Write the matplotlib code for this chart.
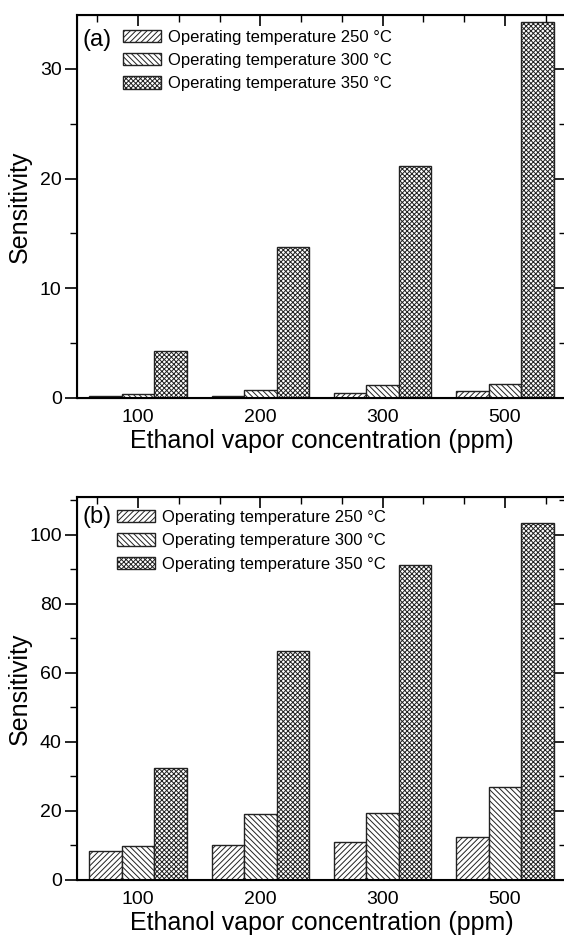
import numpy as np
import matplotlib
matplotlib.use("Agg")
import matplotlib.pyplot as plt
from matplotlib.ticker import MultipleLocator

plt.rcParams['font.family'] = ['Liberation Sans', 'DejaVu Sans']
plt.rcParams['hatch.linewidth'] = 0.7

concentrations = ['100', '200', '300', '500']
labels = ['Operating temperature 250 °C',
          'Operating temperature 300 °C',
          'Operating temperature 350 °C']
hatches = ['//////', '\\\\\\\\\\\\', 'xxxxxxx']

# panel (a)
sens_a_250 = [0.15, 0.2, 0.45, 0.6]
sens_a_300 = [0.4, 0.75, 1.15, 1.25]
sens_a_350 = [4.3, 13.8, 21.1, 34.3]

# panel (b)
sens_b_250 = [8.5, 10.2, 11.0, 12.6]
sens_b_300 = [9.8, 19.2, 19.4, 27.0]
sens_b_350 = [32.4, 66.4, 91.3, 103.4]

W, H = 564, 935
fig = plt.figure(figsize=(W / 100, H / 100), dpi=100)


def panel(rect, series, ymax, major, minor, tag, tag_y, leg_xy):
    ax = fig.add_axes(rect)
    x = np.arange(1, len(concentrations) + 1)
    width = 0.266
    for i, vals in enumerate(series):
        ax.bar(x + (i - 1) * width, vals, width, color='white',
               edgecolor='#222222', linewidth=1.0, hatch=hatches[i],
               label=labels[i])
    ax.set_xlim(0.5, 4.5)
    ax.set_ylim(0, ymax)
    ax.set_xticks(x)
    ax.set_xticklabels(concentrations)
    ax.xaxis.set_minor_locator(MultipleLocator(1 / 3))
    ax.yaxis.set_major_locator(MultipleLocator(major))
    ax.yaxis.set_minor_locator(MultipleLocator(minor))
    ax.tick_params(axis='x', which='both', direction='in', top=True,
                   bottom=False, labelsize=14, pad=8)
    ax.tick_params(axis='x', which='major', length=8, width=1.2)
    ax.tick_params(axis='x', which='minor', length=5, width=1.0)
    ax.tick_params(axis='y', which='both', direction='out', right=False,
                   labelsize=14, pad=2)
    ax.tick_params(axis='y', which='major', length=9, width=1.2)
    ax.tick_params(axis='y', which='minor', length=5, width=1.0)
    for s in ax.spines.values():
        s.set_linewidth(1.5)

    # right-hand ticks point inward
    axr = ax.twinx()
    axr.set_ylim(0, ymax)
    axr.yaxis.set_major_locator(MultipleLocator(major))
    axr.yaxis.set_minor_locator(MultipleLocator(minor))
    axr.tick_params(axis='y', which='both', direction='in', labelright=False)
    axr.tick_params(axis='y', which='major', length=8, width=1.2)
    axr.tick_params(axis='y', which='minor', length=5, width=1.0)

    ax.set_xlabel('Ethanol vapor concentration (ppm)', fontsize=18, labelpad=2)
    ax.set_ylabel('Sensitivity', fontsize=18)
    ax.yaxis.set_label_coords(-0.092, 0.5)
    ax.text(0.012, tag_y, tag, transform=ax.transAxes, fontsize=17,
            va='center', ha='left')
    ax.legend(loc='upper left', bbox_to_anchor=leg_xy, frameon=False,
              fontsize=12, borderpad=0, borderaxespad=0, labelspacing=0.5,
              handlelength=2.3, handleheight=0.75, handletextpad=0.4)
    return ax


x0 = 77 / W
wid = 489 / W
panel([x0, 1 - 398 / H, wid, 383 / H],
      [sens_a_250, sens_a_300, sens_a_350], 34.9, 10, 5,
      '(a)', 0.935, (0.094, 0.962))
panel([x0, 1 - 880 / H, wid, 383 / H],
      [sens_b_250, sens_b_300, sens_b_350], 111, 20, 10,
      '(b)', 0.948, (0.082, 0.966))

fig.savefig('out.png', dpi=100)
